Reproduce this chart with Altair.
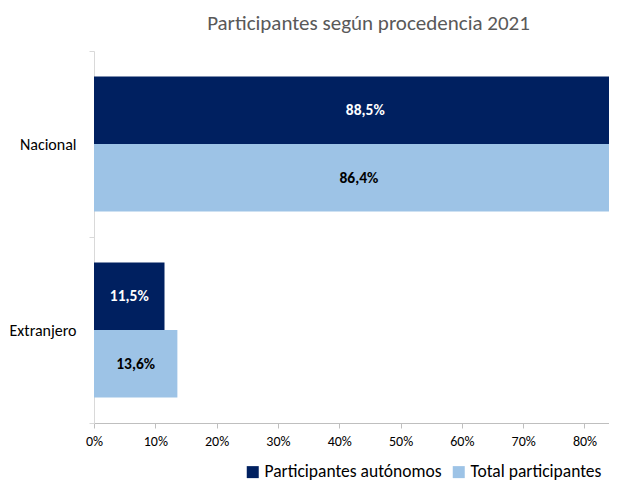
import altair as alt
import pandas as pd

categorias = ["Nacional", "Extranjero"]
series = ["Participantes autónomos", "Total participantes"]
autonomos = [0.885, 0.115]
total = [0.864, 0.136]
ticks = [0, 0.1, 0.2, 0.3, 0.4, 0.5, 0.6, 0.7, 0.8]

rows = []
for c, a, t in zip(categorias, autonomos, total):
    rows.append({"cat": c, "serie": series[0], "valor": a})
    rows.append({"cat": c, "serie": series[1], "valor": t})
df = pd.DataFrame(rows)
df["etiqueta"] = df["valor"].map(lambda v: f"{v*100:.1f}%".replace(".", ","))

FONT = "Carlito, Calibri, Lato, sans-serif"

x_scale = alt.Scale(domain=[0, 0.840], nice=False, zero=True)
y_enc = alt.Y("cat:N", sort=categorias,
              scale=alt.Scale(paddingInner=0, paddingOuter=0),
              axis=alt.Axis(title=None, tickBand="extent", labelFontSize=16,
                            labelColor="#000000", labelFont=FONT, labelPadding=13,
                            domainColor="#D9D9D9", tickColor="#D9D9D9", tickSize=5))
yoff = alt.YOffset("serie:N", sort=series, scale=alt.Scale(paddingOuter=0.378, paddingInner=0))

base = alt.Chart(df)

bars = base.mark_bar(clip=True).encode(
    x=alt.X("valor:Q", scale=x_scale,
            axis=alt.Axis(values=ticks, format=".0%", title=None, labelFontSize=14,
                          labelColor="#000000", labelFont=FONT, grid=False,
                          domainColor="#BFBFBF", tickColor="#BFBFBF", tickSize=5,
                          labelPadding=6, labelFlush=False)),
    y=y_enc,
    yOffset=yoff,
    color=alt.Color("serie:N", sort=series,
                    scale=alt.Scale(domain=series, range=["#002060", "#9DC3E6"]),
                    legend=alt.Legend(title=None, orient="none", direction="horizontal",
                                      legendX=150, legendY=412, symbolType="square",
                                      symbolSize=144, symbolStrokeWidth=0, labelFontSize=17.5,
                                      labelFont=FONT, labelColor="#000000", labelLimit=400,
                                      columnPadding=8, labelOffset=3)),
)

labels = base.transform_calculate(mid="datum.valor / 2").mark_text(
    fontSize=15.5, fontWeight="bold", font=FONT
).encode(
    x=alt.X("mid:Q", scale=x_scale),
    y=alt.Y("cat:N", sort=categorias),
    yOffset=yoff,
    text="etiqueta:N",
    color=alt.condition(alt.datum.serie == series[0], alt.value("white"), alt.value("black")),
)

chart = alt.layer(bars, labels).properties(
    width=515, height=372,
    padding={"left": 86, "top": 43, "right": 0, "bottom": 60},
    autosize=alt.AutoSizeParams(type="none"),
    title=alt.TitleParams("Participantes según procedencia 2021", fontSize=21,
                          font=FONT, fontWeight="normal", color="#595959",
                          anchor="middle", dx=17, offset=9),
).configure_view(stroke=None)

chart.save("out.html", embed_options={"renderer": "svg", "actions": False})
